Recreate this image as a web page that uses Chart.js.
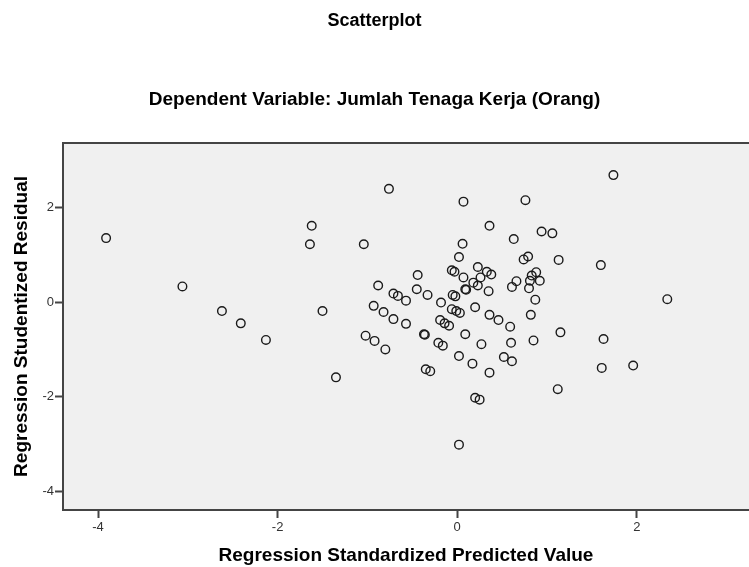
<!DOCTYPE html>
<html>
<head>
<meta charset="utf-8">
<script src="https://cdn.jsdelivr.net/npm/chart.js@4.4.1/dist/chart.umd.min.js"></script>
<style>
  html, body { margin: 0; padding: 0; background: #ffffff; overflow: hidden; }
  #wrap { width: 749px; height: 567px; position: relative; }
</style>
</head>
<body>
<div id="wrap"><canvas id="c"></canvas></div>
<script>
// Regression Standardized Predicted Value (x)
const predicted = [
  -3.91, -3.06, -2.62, -2.41, -2.13, -1.62, -1.64, -1.50, -1.35, -1.04,
  -1.02, -0.92, -0.80, -0.93, -0.82, -0.71, -0.57, -0.88, -0.76, -0.71,
  -0.66, -0.57, -0.44, -0.45, -0.33, -0.37, -0.36, -0.35, -0.30, -0.21,
  -0.16, -0.19, -0.14, -0.09, -0.18, -0.06, -0.03, -0.05, -0.02, -0.06,
  -0.01, 0.03, 0.02, 0.06, 0.07, 0.02, 0.02, 0.07, 0.09, 0.10,
  0.09, 0.17, 0.20, 0.25, 0.18, 0.23, 0.23, 0.26, 0.33, 0.38,
  0.35, 0.36, 0.20, 0.36, 0.46, 0.27, 0.36, 0.52, 0.61, 0.59,
  0.60, 0.61, 0.66, 0.63, 0.74, 0.79, 0.76, 0.80, 0.81, 0.83,
  0.88, 0.92, 0.87, 0.82, 0.85, 0.94, 1.06, 1.13, 1.15, 1.12,
  1.60, 1.63, 1.61, 1.96, 1.74, 2.34
];
// Regression Studentized Residual (y)
const residual = [
  1.35, 0.33, -0.19, -0.45, -0.80, 1.61, 1.22, -0.19, -1.59, 1.22,
  -0.71, -0.82, -1.00, -0.08, -0.21, -0.36, -0.46, 0.35, 2.39, 0.18,
  0.13, 0.03, 0.57, 0.27, 0.15, -0.68, -0.69, -1.42, -1.46, -0.86,
  -0.92, -0.38, -0.45, -0.50, -0.01, 0.67, 0.64, 0.15, 0.12, -0.15,
  -0.19, -0.23, 0.95, 1.23, 2.12, -1.14, -3.01, 0.52, 0.27, 0.26,
  -0.68, -1.30, -2.02, -2.06, 0.41, 0.35, 0.74, 0.52, 0.64, 0.58,
  0.23, 1.61, -0.11, -0.27, -0.38, -0.89, -1.49, -1.16, -1.25, -0.52,
  -0.86, 0.32, 0.44, 1.33, 0.90, 0.96, 2.15, 0.29, 0.45, 0.56,
  0.63, 0.45, 0.05, -0.27, -0.81, 1.49, 1.45, 0.89, -0.64, -1.84,
  0.78, -0.78, -1.39, -1.34, 2.68, 0.06
];
const xTicks = [-4, -2, 0, 2];
const yTicks = [-4, -2, 0, 2];

const chartTitle = 'Scatterplot';
const chartSubtitle = 'Dependent Variable: Jumlah Tenaga Kerja (Orang)';
const xTitle = 'Regression Standardized Predicted Value';
const yTitle = 'Regression Studentized Residual';

const points = predicted.map((v, i) => ({ x: v, y: residual[i] }));

const plotBg = {
  id: 'plotBg',
  beforeDraw(chart) {
    const { ctx, chartArea: a } = chart;
    ctx.save();
    ctx.fillStyle = '#f0f0f0';
    ctx.fillRect(a.left, a.top, a.right - a.left, a.bottom - a.top);
    ctx.strokeStyle = '#444444';
    ctx.lineWidth = 2;
    ctx.beginPath();
    ctx.moveTo(a.left, a.top);
    ctx.lineTo(a.right, a.top);
    ctx.stroke();
    ctx.restore();
  }
};

const FONT = '"Liberation Sans", Arial, sans-serif';

new Chart(document.getElementById('c'), {
  type: 'scatter',
  data: {
    datasets: [{
      data: points,
      pointStyle: 'circle',
      pointRadius: 4.3,
      pointHoverRadius: 4.3,
      borderWidth: 1.4,
      borderColor: '#1a1a1a',
      backgroundColor: 'rgba(0,0,0,0)'
    }]
  },
  options: {
    responsive: true,
    maintainAspectRatio: false,
    animation: false,
    layout: { autoPadding: false, padding: { left: 0, right: 0, top: 0, bottom: 0 } },
    plugins: {
      legend: { display: false },
      tooltip: { enabled: false },
      title: {
        display: true,
        text: chartTitle,
        color: '#000000',
        font: { family: FONT, size: 18, weight: 'bold' },
        padding: { top: 10, bottom: 0 }
      },
      subtitle: {
        display: true,
        text: chartSubtitle,
        color: '#000000',
        font: { family: FONT, size: 19, weight: 'bold' },
        padding: { top: 57, bottom: 31.5 }
      }
    },
    scales: {
      x: {
        type: 'linear',
        min: -4.39,
        max: 3.25,
        afterFit(scale) { scale.height = 57; },
        afterBuildTicks(scale) { scale.ticks = xTicks.map(v => ({ value: v })); },
        grid: { drawOnChartArea: false, drawTicks: true, tickLength: 8, tickWidth: 2, tickColor: '#444444' },
        border: { display: true, color: '#444444', width: 2 },
        ticks: { color: '#333333', font: { family: FONT, size: 13 }, padding: 2 },
        title: {
          display: true,
          text: xTitle,
          color: '#000000',
          font: { family: FONT, size: 19, weight: 'bold' },
          padding: { top: 0, bottom: 0 }
        }
      },
      y: {
        type: 'linear',
        min: -4.39,
        max: 3.36,
        afterFit(scale) { scale.width = 63; },
        afterBuildTicks(scale) { scale.ticks = yTicks.map(v => ({ value: v })); },
        grid: { drawOnChartArea: false, drawTicks: true, tickLength: 8, tickWidth: 2, tickColor: '#444444' },
        border: { display: true, color: '#444444', width: 2 },
        ticks: { color: '#333333', font: { family: FONT, size: 13 }, padding: 1 },
        title: {
          display: true,
          text: yTitle,
          color: '#000000',
          font: { family: FONT, size: 19, weight: 'bold' },
          padding: { top: 10, bottom: 0 }
        }
      }
    }
  },
  plugins: [plotBg]
});
</script>
</body>
</html>
